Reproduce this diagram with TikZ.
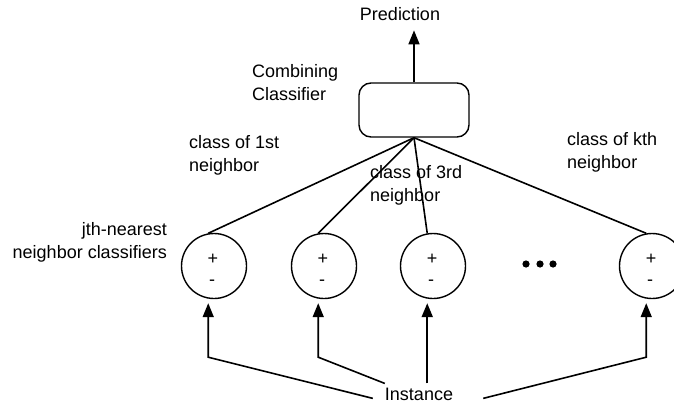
\documentclass[tikz,border=0pt]{standalone}
\usepackage{fontspec}
\setmainfont{Liberation Sans}
\usetikzlibrary{arrows.meta,calc}
\begin{document}
\begin{tikzpicture}[x=1pt,y=-1pt,
  every node/.style={font=\fontsize{18}{23}\selectfont, inner sep=0pt},
  lbl/.style={align=left, anchor=base west},
  wire/.style={line width=1.6pt},
  feed/.style={line width=1.6pt, -{Triangle[length=14pt,width=11pt]}},
  voter/.style={circle, draw, line width=1.4pt, minimum size=65pt},
  sign/.style={font=\fontsize{18}{18}\selectfont}]
\useasboundingbox (0,0) rectangle (674,404);

% combining classifier and its output
\node[draw, rounded corners=12pt, minimum width=110pt, minimum height=54pt,
      line width=1.4pt] (comb) at (414,110) {};
\node[anchor=base] (pred) at (400,21) {Prediction};
\draw[feed, shorten >=9pt] (comb.north) -- (comb.north |- pred.south);
\node[lbl] (combl) at (252,100) {Combining\\Classifier};

% the individual neighbor classifiers
\foreach \i/\x in {1/214,2/324,3/433,5/652}{
  \node[voter] (c\i) at (\x,266) {};
  \node[sign] (p\i) at ($(c\i)+(-1,-7)$) {+};
  \node[sign] (m\i) at ($(c\i)+(-2,17)$) {-};
  \draw[wire] (comb.south) -- (c\i.100);
}
\fill (526,264) circle (3.6pt) (540,264) circle (3.6pt) (553,264) circle (3.6pt);

\node[lbl] (n1) at (189,171) {class of 1st\\neighbor};
\node[lbl] (n3) at (370,201) {class of 3rd\\neighbor};
\node[lbl] (nk) at (567,168) {class of kth\\neighbor};
\node[align=right, anchor=base east] (jth) at (167,258) {jth-nearest\\neighbor classifiers};

% the instance fed to every classifier
\node[anchor=base] (inst) at (419,400) {Instance};
\draw[feed, shorten >=4.5pt] ([xshift=-12pt,yshift=2pt]inst.south west)
  -- ($(c1.260)+(0,58.5)$) -- (c1.260);
\draw[feed, shorten >=4.5pt] ([yshift=4pt]inst.north west)
  -- ($(c2.260)+(0,58.5)$) -- (c2.260);
\draw[feed, line width=2pt, shorten >=4.5pt] ($(c3.260 |- inst.north)+(0,-4)$) -- (c3.260);
\draw[feed, shorten >=4.5pt] ([xshift=30pt,yshift=2pt]inst.south east)
  -- ($(c5.260)+(0,58.5)$) -- (c5.260);
\end{tikzpicture}
\end{document}
